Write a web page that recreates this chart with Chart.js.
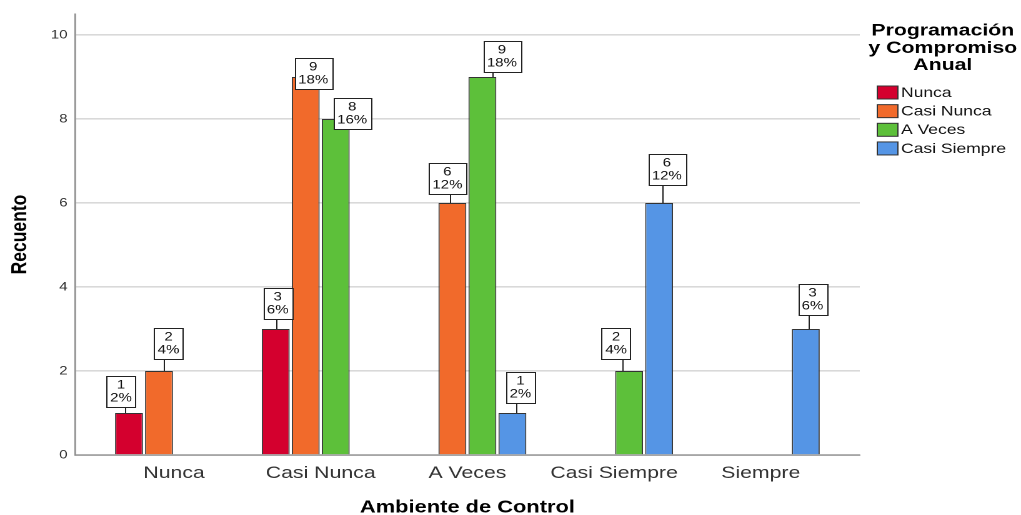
<!DOCTYPE html>
<html>
<head>
<meta charset="utf-8">
<title>Ambiente de Control</title>
<script src="https://cdn.jsdelivr.net/npm/chart.js@4/dist/chart.umd.min.js"></script>
<style>
  html, body { margin: 0; padding: 0; background: #fff; overflow: hidden; }
  #wrap { width: 1021px; height: 515px; position: relative; overflow: hidden; }
  /* the chart is laid out narrow and widened horizontally, as in the exported SPSS graphic */
  #c { display: block; transform: scaleX(1.2497); transform-origin: 0 0; }
</style>
</head>
<body>
<div id="wrap"><canvas id="c" width="817" height="515"></canvas></div>
<script>
// Categories on the horizontal axis (Ambiente de Control)
const categories = ['Nunca', 'Casi Nunca', 'A Veces', 'Casi Siempre', 'Siempre'];

// Series (Programación y Compromiso Anual) - counts per category
const seriesNames = ['Nunca', 'Casi Nunca', 'A Veces', 'Casi Siempre'];
const nunca       = [1, 3, null, null, null];
const casiNunca   = [2, 9, 6, null, null];
const aVeces      = [null, 8, 9, 2, null];
const casiSiempre = [null, null, 1, 6, 3];

// Value axis tick labels
const yTicks = [0, 2, 4, 6, 8, 10];

const legendTitle = ['Programación', 'y Compromiso', 'Anual'];
const seriesColors = ['#d4002e', '#f16a2b', '#5dc03a', '#5595e5'];

// Placement of each value label box: [horizontal shift, gap above bar top]
const labelNudge = [
  [[-6.4, 6], [1.6, 10], null, null, null],
  [[7.6, 12], [6, -12], [-4, 9], null, null],
  [null, [13.2, -10], [15.6, 5], [-10.4, 12], null],
  [null, null, [6.4, 10], [6.2, 18], [5.4, 14]]
];

const seriesValues = [nunca, casiNunca, aVeces, casiSiempre];
const total = seriesValues.flat().reduce((s, v) => s + (v || 0), 0);

const FONT = '"Liberation Sans", Arial, Helvetica, sans-serif';

const datasets = seriesNames.map((name, i) => ({
  label: name,
  data: seriesValues[i]
    .map((v, k) => ({ x: k, y: v }))
    .filter(p => p.y !== null),
  backgroundColor: seriesColors[i],
  borderColor: '#333333',
  borderWidth: 1,
  barPercentage: 0.93,
  categoryPercentage: 0.818
}));

// Boxed "count / percent" labels above the bars
const valueLabels = {
  id: 'valueLabels',
  afterDatasetsDraw(chart) {
    const ctx = chart.ctx;
    ctx.save();
    ctx.font = '12px ' + FONT;
    ctx.textAlign = 'center';
    ctx.textBaseline = 'middle';
    chart.data.datasets.forEach((ds, di) => {
      const meta = chart.getDatasetMeta(di);
      meta.data.forEach((bar, j) => {
        const pt = ds.data[j];
        const n = pt.y;
        const pct = Math.round(n / total * 100) + '%';
        const nudge = labelNudge[di][pt.x] || [0, 8];
        const w = Math.max(ctx.measureText(String(n)).width, ctx.measureText(pct).width) + 6;
        const h = 31;
        const cx = bar.x + nudge[0];
        const bottom = bar.y - nudge[1];
        const top = bottom - h;
        if (nudge[1] > 0) {
          const lx = Math.round((bar.x + cx) / 2) + 0.5;
          ctx.strokeStyle = '#222';
          ctx.lineWidth = 1;
          ctx.beginPath();
          ctx.moveTo(lx, bar.y);
          ctx.lineTo(lx, bottom);
          ctx.stroke();
        }
        const bx = Math.round(cx - w / 2) + 0.5;
        const by = Math.round(top) + 0.5;
        ctx.fillStyle = '#ffffff';
        ctx.fillRect(bx, by, Math.round(w), h);
        ctx.strokeStyle = '#222';
        ctx.lineWidth = 1;
        ctx.strokeRect(bx, by, Math.round(w), h);
        ctx.fillStyle = '#111';
        ctx.fillText(String(n), cx, top + h / 2 - 6.3);
        ctx.fillText(pct, cx, top + h / 2 + 6.8);
      });
    });
    ctx.restore();
  }
};

// Legend with a three-line title at the right of the plot
const sideLegend = {
  id: 'sideLegend',
  afterDraw(chart) {
    const ctx = chart.ctx;
    const x0 = chart.chartArea.right;
    ctx.save();
    ctx.fillStyle = '#000';
    ctx.textAlign = 'center';
    ctx.textBaseline = 'middle';
    ctx.font = 'bold 17px ' + FONT;
    legendTitle.forEach((t, i) => ctx.fillText(t, x0 + 66.4, 31 + i * 17.2));
    ctx.font = '14px ' + FONT;
    ctx.textAlign = 'left';
    chart.data.datasets.forEach((ds, i) => {
      const y = 92.5 + i * 18.65;
      ctx.fillStyle = ds.backgroundColor;
      ctx.fillRect(x0 + 14, y - 6.5, 16.5, 13);
      ctx.strokeStyle = '#333';
      ctx.lineWidth = 1;
      ctx.strokeRect(x0 + 14, y - 6.5, 16.5, 13);
      ctx.fillStyle = '#111';
      ctx.fillText(ds.label, x0 + 33, y + 0.5);
    });
    ctx.restore();
  }
};

new Chart(document.getElementById('c'), {
  type: 'bar',
  data: { datasets },
  plugins: [valueLabels, sideLegend],
  options: {
    responsive: false,
    animation: false,
    devicePixelRatio: 2,
    layout: { padding: { left: 0, right: 129, top: 14, bottom: 0 } },
    plugins: {
      legend: { display: false },
      tooltip: { enabled: false }
    },
    scales: {
      x: {
        type: 'linear',
        offset: false,
        bounds: 'data',
        min: -0.675,
        max: 4.675,
        afterFit(scale) { scale.height = 60; },
        afterBuildTicks(scale) { scale.ticks = categories.map((_, i) => ({ value: i })); },
        grid: { display: false, drawTicks: false, offset: false },
        border: { display: true, color: '#8c8c8c', width: 1.3 },
        ticks: {
          autoSkip: false,
          maxRotation: 0,
          padding: 8,
          color: '#333',
          font: { family: FONT, size: 17 },
          callback: (v) => categories[v]
        },
        title: {
          display: true,
          text: 'Ambiente de Control',
          color: '#000',
          padding: { top: 0, bottom: 0 },
          font: { family: FONT, size: 17.5, weight: 'bold', lineHeight: 0.857 }
        }
      },
      y: {
        min: 0,
        max: 10.5,
        afterFit(scale) { scale.width = 60; },
        afterBuildTicks(scale) { scale.ticks = yTicks.map(v => ({ value: v })); },
        grid: { color: '#d9d9d9', lineWidth: 1.6, drawTicks: false },
        border: { display: true, color: '#8c8c8c', width: 1.3 },
        ticks: {
          padding: 6,
          color: '#333',
          font: { family: FONT, size: 12 }
        },
        title: {
          display: true,
          text: 'Recuento',
          color: '#000',
          padding: { top: 5.5, bottom: 0 },
          font: { family: FONT, size: 17.5, weight: 'bold' }
        }
      }
    }
  }
});
</script>
</body>
</html>
